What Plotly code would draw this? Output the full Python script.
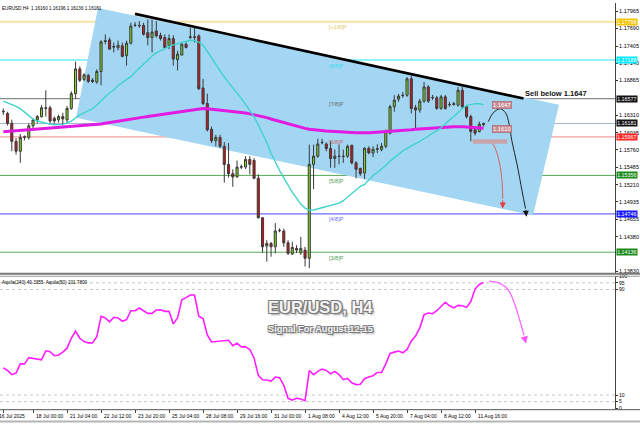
import plotly.graph_objects as go

# ---------------- data ----------------
bar_index = list(range(114))

opens = [1.16376, 1.16341, 1.16184, 1.15897, 1.15740, 1.15960, 1.15960, 1.16144, 1.16238, 1.16290,
         1.16431, 1.16431, 1.16263, 1.16238, 1.16290, 1.16238, 1.16420, 1.16655, 1.17048, 1.16881,
         1.16944, 1.16870, 1.16839, 1.17007, 1.17494, 1.17509, 1.17404, 1.17384, 1.17415, 1.17258,
         1.17456, 1.17739, 1.17739, 1.17739, 1.17624, 1.17546, 1.17651, 1.17582, 1.17546, 1.17415,
         1.17530, 1.17195, 1.17268, 1.17440, 1.17557, 1.17557, 1.17572, 1.16745, 1.16498, 1.16090,
         1.15908, 1.15960, 1.15819, 1.15531, 1.15384, 1.15332, 1.15494, 1.15489, 1.15610, 1.15594,
         1.15311, 1.14683, 1.14233, 1.14275, 1.14222, 1.14484, 1.14473, 1.14285, 1.14107, 1.14197,
         1.14128, 1.14170, 1.14040, 1.15531, 1.15662, 1.15881, 1.15855, 1.15782, 1.15625, 1.15662,
         1.15662, 1.15662, 1.15834, 1.15556, 1.15468, 1.15395, 1.15787, 1.15713, 1.15771, 1.15767,
         1.15819, 1.16027, 1.16447, 1.16567, 1.16624, 1.16630, 1.16891, 1.16431, 1.16395, 1.16536,
         1.16761, 1.16588, 1.16588, 1.16420, 1.16604, 1.16478, 1.16483, 1.16473, 1.16709, 1.16447,
         1.16290, 1.16081, 1.16054, 1.16160]
highs = [1.16420, 1.16368, 1.16242, 1.15949, 1.16012, 1.15991, 1.16184, 1.16263, 1.16316, 1.16473,
         1.16709, 1.16462, 1.16290, 1.16321, 1.16352, 1.16458, 1.16693, 1.17164, 1.17090, 1.16980,
         1.16969, 1.16902, 1.17043, 1.17503, 1.17597, 1.17546, 1.17467, 1.17498, 1.17467, 1.17498,
         1.17781, 1.17792, 1.17808, 1.17781, 1.17833, 1.17833, 1.17808, 1.17624, 1.17597, 1.17597,
         1.17582, 1.17337, 1.17456, 1.17467, 1.17703, 1.17703, 1.17597, 1.16891, 1.16655, 1.16133,
         1.16002, 1.16002, 1.15886, 1.15870, 1.15453, 1.15594, 1.15531, 1.15662, 1.15662, 1.15630,
         1.15374, 1.14693, 1.14327, 1.14300, 1.14599, 1.14515, 1.14511, 1.14327, 1.14300, 1.14249,
         1.14379, 1.14222, 1.15845, 1.15845, 1.15939, 1.15939, 1.15881, 1.15897, 1.15767, 1.15845,
         1.15767, 1.15845, 1.15845, 1.15583, 1.15478, 1.15803, 1.15819, 1.15819, 1.15850, 1.15870,
         1.16085, 1.16478, 1.16630, 1.16651, 1.16682, 1.16918, 1.16944, 1.16478, 1.16572, 1.16839,
         1.16792, 1.16635, 1.16619, 1.16635, 1.16635, 1.16525, 1.16525, 1.16761, 1.16761, 1.16478,
         1.16321, 1.16117, 1.16211, 1.16196]
lows = [1.16316, 1.16148, 1.15740, 1.15688, 1.15556, 1.15913, 1.15924, 1.16106, 1.16184, 1.16274,
        1.16290, 1.16184, 1.16180, 1.16195, 1.16148, 1.16195, 1.16399, 1.16577, 1.16839, 1.16855,
        1.16823, 1.16823, 1.16812, 1.16787, 1.17440, 1.17357, 1.17310, 1.17341, 1.17232, 1.17101,
        1.17436, 1.17714, 1.17703, 1.17577, 1.17425, 1.17310, 1.17546, 1.17498, 1.17362, 1.17362,
        1.17101, 1.17023, 1.17263, 1.17373, 1.17519, 1.17467, 1.16713, 1.16473, 1.16054, 1.15870,
        1.15819, 1.15792, 1.15242, 1.15321, 1.15175, 1.15321, 1.15457, 1.15457, 1.15374, 1.15296,
        1.14672, 1.14128, 1.13986, 1.14065, 1.14118, 1.14453, 1.14222, 1.14092, 1.14092, 1.14123,
        1.14092, 1.13908, 1.13883, 1.15139, 1.15635, 1.15850, 1.15740, 1.15478, 1.15478, 1.15531,
        1.15556, 1.15635, 1.15531, 1.15311, 1.15348, 1.15300, 1.15693, 1.15646, 1.15709, 1.15740,
        1.15787, 1.16007, 1.16368, 1.16525, 1.16588, 1.16604, 1.16341, 1.16106, 1.16352, 1.16509,
        1.16509, 1.16556, 1.16399, 1.16399, 1.16399, 1.16447, 1.16462, 1.16447, 1.16420, 1.16258,
        1.15897, 1.15991, 1.16038, 1.16136]
closes = [1.16368, 1.16184, 1.15897, 1.15740, 1.15960, 1.15968, 1.16144, 1.16238, 1.16290, 1.16431,
          1.16423, 1.16222, 1.16222, 1.16290, 1.16253, 1.16420, 1.16655, 1.17048, 1.16866, 1.16954,
          1.16850, 1.16847, 1.17007, 1.17478, 1.17486, 1.17362, 1.17396, 1.17425, 1.17247, 1.17456,
          1.17729, 1.17742, 1.17734, 1.17597, 1.17546, 1.17635, 1.17572, 1.17530, 1.17389, 1.17530,
          1.17205, 1.17283, 1.17440, 1.17389, 1.17552, 1.17550, 1.16734, 1.16498, 1.16081, 1.15908,
          1.15960, 1.15819, 1.15531, 1.15384, 1.15332, 1.15489, 1.15489, 1.15610, 1.15531, 1.15311,
          1.14683, 1.14222, 1.14275, 1.14222, 1.14473, 1.14479, 1.14285, 1.14118, 1.14212, 1.14170,
          1.14197, 1.14040, 1.15531, 1.15662, 1.15855, 1.15877, 1.15782, 1.15625, 1.15662, 1.15657,
          1.15657, 1.15819, 1.15556, 1.15453, 1.15384, 1.15787, 1.15713, 1.15771, 1.15779, 1.15819,
          1.16054, 1.16447, 1.16552, 1.16615, 1.16630, 1.16891, 1.16420, 1.16395, 1.16536, 1.16761,
          1.16536, 1.16593, 1.16420, 1.16604, 1.16420, 1.16483, 1.16494, 1.16709, 1.16447, 1.16290,
          1.16054, 1.16027, 1.16169, 1.16181]

ma_fast = [1.16536, 1.16512, 1.16490, 1.16454, 1.16417, 1.16363, 1.16305, 1.16250, 1.16220, 1.16202,
           1.16183, 1.16170, 1.16161, 1.16161, 1.16167, 1.16192, 1.16220, 1.16269, 1.16318, 1.16348,
           1.16381, 1.16415, 1.16473, 1.16536, 1.16610, 1.16669, 1.16712, 1.16784, 1.16831, 1.16881,
           1.16925, 1.16996, 1.17064, 1.17129, 1.17197, 1.17254, 1.17302, 1.17341, 1.17374, 1.17407,
           1.17429, 1.17447, 1.17464, 1.17491, 1.17502, 1.17498, 1.17475, 1.17426, 1.17321, 1.17216,
           1.17128, 1.17020, 1.16919, 1.16831, 1.16750, 1.16666, 1.16580, 1.16486, 1.16392, 1.16290,
           1.16156, 1.16015, 1.15881, 1.15709, 1.15567, 1.15434, 1.15316, 1.15198, 1.15088, 1.14994,
           1.14900, 1.14837, 1.14801, 1.14806, 1.14826, 1.14845, 1.14861, 1.14877, 1.14897, 1.14916,
           1.14955, 1.15010, 1.15065, 1.15120, 1.15183, 1.15214, 1.15285, 1.15355, 1.15402, 1.15450,
           1.15512, 1.15583, 1.15638, 1.15696, 1.15745, 1.15787, 1.15830, 1.15862, 1.15895, 1.15936,
           1.15976, 1.16023, 1.16067, 1.16114, 1.16180, 1.16238, 1.16293, 1.16355, 1.16420, 1.16465,
           1.16484, 1.16497, 1.16494, 1.16481]

ma_slow = [1.16049, 1.16054, 1.16059, 1.16062, 1.16065, 1.16073, 1.16081, 1.16089, 1.16093, 1.16098,
           1.16103, 1.16107, 1.16111, 1.16115, 1.16122, 1.16128, 1.16136, 1.16142, 1.16148, 1.16153,
           1.16156, 1.16161, 1.16166, 1.16172, 1.16186, 1.16198, 1.16208, 1.16219, 1.16230, 1.16242,
           1.16252, 1.16261, 1.16272, 1.16282, 1.16293, 1.16302, 1.16312, 1.16321, 1.16332, 1.16341,
           1.16352, 1.16362, 1.16371, 1.16382, 1.16390, 1.16399, 1.16409, 1.16418, 1.16414, 1.16407,
           1.16401, 1.16395, 1.16387, 1.16379, 1.16373, 1.16365, 1.16357, 1.16346, 1.16334, 1.16321,
           1.16310, 1.16294, 1.16274, 1.16253, 1.16233, 1.16213, 1.16194, 1.16173, 1.16153, 1.16133,
           1.16114, 1.16103, 1.16090, 1.16081, 1.16074, 1.16068, 1.16062, 1.16057, 1.16052, 1.16048,
           1.16045, 1.16040, 1.16037, 1.16035, 1.16034, 1.16030, 1.16032, 1.16037, 1.16041, 1.16045,
           1.16051, 1.16059, 1.16065, 1.16070, 1.16073, 1.16078, 1.16082, 1.16089, 1.16095, 1.16101,
           1.16107, 1.16111, 1.16115, 1.16118, 1.16123, 1.16126, 1.16128, 1.16131, 1.16131, 1.16125,
           1.16118, 1.16114, 1.16109, 1.16104]

oscillator = [30.6, 28.6, 25.4, 26.6, 33.6, 33.6, 38.3, 37.6, 37.1, 36.6,
              43.5, 42.8, 39.8, 40.3, 42.5, 45.5, 53.0, 58.5, 53.0, 50.5,
              49.5, 49.5, 54.2, 69.7, 68.4, 65.4, 68.9, 68.4, 65.9, 67.2,
              73.9, 73.9, 75.9, 73.9, 71.9, 71.9, 74.4, 74.6, 73.4, 73.4,
              63.9, 68.4, 82.1, 83.8, 85.8, 85.8, 69.7, 67.9, 55.5, 50.2,
              50.5, 51.2, 51.5, 51.5, 47.3, 49.3, 46.5, 46.5, 44.5, 38.1,
              24.9, 21.6, 21.4, 20.6, 23.6, 23.1, 17.4, 7.5, 6.2, 7.5,
              7.0, 5.7, 28.6, 25.4, 27.9,
              29.6, 28.6, 26.1, 27.9, 25.4, 21.6, 22.6, 19.2, 17.9, 18.2,
              22.4, 23.6, 24.6, 27.1, 27.1, 33.6, 41.5, 42.5, 43.3, 42.0,
              44.5, 51.0, 54.7, 60.9, 70.9, 72.1, 71.6, 73.9, 77.4, 80.3,
              77.6, 76.1, 77.9, 77.6, 76.4, 80.8, 90.3, 93.8, 95.3]

price_tick_vals = [1.17965, 1.17690, 1.17405, 1.17140, 1.16865, 1.16310, 1.16035,
                   1.15760, 1.15485, 1.15210, 1.14935, 1.14655, 1.14380, 1.13830]
osc_tick_vals = [0, 5, 10, 90, 95, 100]
osc_levels = [5, 10, 90, 95]

murray_levels = [1.17798, 1.17188, 1.16577, 1.15967, 1.15356, 1.14746, 1.14136]
murray_names = ["[+1/8]P", "[8/8]P", "[7/8]P", "[6/8]P", "[5/8]P", "[4/8]P", "[3/8]P"]
murray_line_colors = ["#f6e3a2", "#8ef2f7", "#8a8a8a", "#f2a0a0", "#55aa55", "#6b6bff", "#5aae5a"]
murray_text_colors = ["#e8c860", "#3fdcef", "#6a6a6a", "#c46a6a", "#4f9f4f", "#6b6bff", "#4f9f4f"]
murray_widths = [2, 2, 1.2, 1.2, 1, 1.2, 1]
murray_box_colors = ["#f2c400", "#00eaff", "#111111", "#ff2222", "#1a8a1a", "#1717ff", "#1a8a1a"]

bid_price = 1.16181
target_prices = [1.1647, 1.1610]

date_tick_bars = [0, 7, 15, 23, 31, 39, 47, 55, 63, 71, 79, 87, 95, 103, 111]
date_tick_labels = ["16 Jul 2025", "18 Jul 00:00", "21 Jul 04:00", "22 Jul 12:00", "23 Jul 20:00",
                    "25 Jul 04:00", "28 Jul 08:00", "29 Jul 16:00", "31 Jul 00:00", "1 Aug 08:00",
                    "4 Aug 12:00", "5 Aug 20:00", "7 Aug 04:00", "8 Aug 12:00", "11 Aug 16:00"]

# drawing objects (bar index, price)
channel_corners = [(22.28, 1.18017), (130.75, 1.16478), (124.64, 1.14720), (17.11, 1.16274)]
trend_line = [(31.0, 1.17922), (122.4, 1.16577)]
black_path_x = [114.12, 115.22, 116.87, 118.16, 118.99, 119.69, 120.87, 122.05, 122.87]
black_path_y = [1.16211, 1.16345, 1.16415, 1.16352, 1.16180, 1.15897, 1.15536, 1.15112, 1.14829]
black_tip = (123.1, 1.14700)
red_path_x = [114.12, 115.29, 116.47, 117.27, 117.51]
red_path_y = [1.15913, 1.15845, 1.15635, 1.15321, 1.14986]
red_tip = (117.51, 1.14830)
zone_box = (110.45, 118.6, 1.15861, 1.15929)
osc_path_x = [114.29, 116.87, 118.82, 120.4, 121.58, 122.52]
osc_path_y = [96.3, 94.6, 89.6, 78.4, 65.9, 55.2]
osc_tip = (123.0, 49.0)

# ---------------- figure ----------------
W, H = 640, 427
def fx(px):
    return px / W
def fy(py):
    return 1 - py / H

X_RANGE = [-0.776, 143.93]
PLOT_RIGHT = 615 / W
FONT = "Liberation Sans, Arial, sans-serif"
TITLE_FONT = "Liberation Sans, Arial, sans-serif"

fig = go.Figure()

fig.add_trace(go.Scatter(x=bar_index, y=ma_slow, mode="lines",
                         line=dict(color="#e21be2", width=3), hoverinfo="skip", showlegend=False))
fig.add_trace(go.Scatter(x=bar_index, y=ma_fast, mode="lines",
                         line=dict(color="#3fd3cc", width=1.4), hoverinfo="skip", showlegend=False))
fig.add_trace(go.Candlestick(
    x=bar_index, open=opens, high=highs, low=lows, close=closes,
    increasing=dict(line=dict(color="#3a3a3a", width=1), fillcolor="#7fd421"),
    decreasing=dict(line=dict(color="#3a3a3a", width=1), fillcolor="#cf1515"),
    whiskerwidth=0, hoverinfo="skip", showlegend=False))

fig.add_trace(go.Scatter(x=black_path_x, y=black_path_y, mode="lines", line_shape="spline",
                         line=dict(color="#222222", width=1), hoverinfo="skip", showlegend=False))
fig.add_trace(go.Scatter(x=red_path_x, y=red_path_y, mode="lines", line_shape="spline",
                         line=dict(color="#e85a5a", width=1), hoverinfo="skip", showlegend=False))

fig.add_trace(go.Scatter(x=bar_index, y=oscillator, mode="lines", xaxis="x2", yaxis="y2",
                         line=dict(color="#ff1eff", width=1.6), hoverinfo="skip", showlegend=False))
fig.add_trace(go.Scatter(x=osc_path_x, y=osc_path_y, mode="lines", line_shape="spline",
                         xaxis="x2", yaxis="y2",
                         line=dict(color="#ff6cff", width=1.3), hoverinfo="skip", showlegend=False))

shapes = []
path = "M " + " L ".join(f"{x},{y}" for x, y in channel_corners) + " Z"
shapes.append(dict(type="path", path=path, xref="x", yref="y", fillcolor="#a3d6f3",
                   line=dict(width=0), layer="below"))
for lvl, col, w in zip(murray_levels, murray_line_colors, murray_widths):
    shapes.append(dict(type="line", xref="paper", yref="y", x0=0, x1=PLOT_RIGHT, y0=lvl, y1=lvl,
                       line=dict(color=col, width=w), layer="below"))
shapes.append(dict(type="line", xref="paper", yref="y", x0=0, x1=PLOT_RIGHT, y0=bid_price, y1=bid_price,
                   line=dict(color="#a9b6c9", width=1), layer="below"))
shapes.append(dict(type="line", xref="x", yref="y", x0=trend_line[0][0], y0=trend_line[0][1],
                   x1=trend_line[1][0], y1=trend_line[1][1], line=dict(color="#000000", width=2.6)))
shapes.append(dict(type="rect", xref="x", yref="y", x0=zone_box[0], x1=zone_box[1],
                   y0=zone_box[2], y1=zone_box[3], fillcolor="#c9a3ab", line=dict(width=0)))
for lv in osc_levels:
    shapes.append(dict(type="line", xref="paper", yref="y2", x0=0, x1=PLOT_RIGHT, y0=lv, y1=lv,
                       line=dict(color="#b8b8b8", width=0.8, dash="dot"), layer="below"))
shapes.append(dict(type="line", xref="paper", yref="paper", x0=0, x1=1, y0=fy(274), y1=fy(274),
                   line=dict(color="#7a7a7a", width=2)))
shapes.append(dict(type="line", xref="paper", yref="paper", x0=0, x1=1, y0=fy(276.5), y1=fy(276.5),
                   line=dict(color="#9a9a9a", width=1)))
shapes.append(dict(type="line", xref="paper", yref="paper", x0=0, x1=1, y0=fy(411.5), y1=fy(411.5),
                   line=dict(color="#555555", width=1)))
shapes.append(dict(type="line", xref="paper", yref="paper", x0=0, x1=1, y0=fy(423.5), y1=fy(423.5),
                   line=dict(color="#b5b5b5", width=2)))

annotations = []
annotations.append(dict(xref="paper", yref="paper", x=fx(0), y=fy(1), xanchor="left", yanchor="top",
                        text="EURUSD,H4  1.16160 1.16196 1.16136 1.16181", showarrow=False,
                        font=dict(family=FONT, size=4.6, color="#000000")))
annotations.append(dict(xref="paper", yref="paper", x=fx(0), y=fy(278), xanchor="left", yanchor="top",
                        text="Aquila(240) 40.3355  Aquila(50) 101.7800", showarrow=False,
                        font=dict(family=FONT, size=4.6, color="#000000")))
for lvl, name, col in zip(murray_levels, murray_names, murray_text_colors):
    annotations.append(dict(xref="paper", yref="y", x=fx(327), y=lvl, xanchor="left", yanchor="top",
                            yshift=-0.5, text=name, showarrow=False,
                            font=dict(family=FONT, size=5.5, color=col)))
for lvl, bg in zip(murray_levels, murray_box_colors):
    annotations.append(dict(xref="paper", yref="y", x=fx(616), y=lvl, xanchor="left", yanchor="middle",
                            text=f"{lvl:.5f}", showarrow=False, bgcolor=bg, borderpad=0.2,
                            font=dict(family=FONT, size=5.3, color="#ffffff")))
annotations.append(dict(xref="paper", yref="y", x=fx(616), y=bid_price, xanchor="left", yanchor="middle",
                        text=f"{bid_price:.5f}", showarrow=False, bgcolor="#111111", borderpad=0.2,
                        font=dict(family=FONT, size=5.3, color="#ffffff")))
for tp in target_prices:
    annotations.append(dict(xref="x", yref="y", x=117.4, y=tp, xanchor="center", yanchor="middle",
                            text=f"{tp:.4f}", showarrow=False, bgcolor="#c98d95",
                            bordercolor="#a8606a", borderwidth=0.6, borderpad=0.3,
                            font=dict(family=FONT, size=5.8, color="#ffffff")))
annotations.append(dict(xref="paper", yref="paper", x=fx(523), y=fy(91.5), xanchor="left", yanchor="middle",
                        text="<b>Sell below 1.1647</b>", showarrow=False,
                        font=dict(family=FONT, size=7.5, color="#111111")))
annotations.append(dict(xref="x", yref="y", axref="x", ayref="y", x=black_tip[0], y=black_tip[1],
                        ax=black_path_x[-1], ay=black_path_y[-1], text="", showarrow=True,
                        arrowhead=2, arrowsize=1.2, arrowwidth=1, arrowcolor="#111111"))
annotations.append(dict(xref="x", yref="y", axref="x", ayref="y", x=red_tip[0], y=red_tip[1],
                        ax=red_path_x[-1], ay=red_path_y[-1], text="", showarrow=True,
                        arrowhead=2, arrowsize=1.2, arrowwidth=1, arrowcolor="#e83a3a"))
annotations.append(dict(xref="x2", yref="y2", axref="x2", ayref="y2", x=osc_tip[0], y=osc_tip[1],
                        ax=osc_path_x[-1], ay=osc_path_y[-1], text="", showarrow=True,
                        arrowhead=2, arrowsize=1.2, arrowwidth=1.2, arrowcolor="#ff55ff"))
shadow = "-1px -1px 0 #7a7a7a, 1px -1px 0 #7a7a7a, -1px 1px 0 #7a7a7a, 1px 1px 0 #7a7a7a, 2px 2px 2px #9a9a9a"
annotations.append(dict(xref="paper", yref="paper", x=fx(320), y=fy(308), xanchor="center", yanchor="middle",
                        text="<b>EUR/USD, H4</b>", showarrow=False,
                        font=dict(family=TITLE_FONT, size=16.5, color="#f4f4f4", shadow=shadow)))
annotations.append(dict(xref="paper", yref="paper", x=fx(320), y=fy(330), xanchor="center", yanchor="middle",
                        text="<b>Signal For August 12-15</b>", showarrow=False,
                        font=dict(family=TITLE_FONT, size=9.2, color="#f4f4f4", shadow=shadow)))
for b, lab in zip(date_tick_bars, date_tick_labels):
    annotations.append(dict(xref="x2", yref="paper", x=b, y=fy(413), xanchor="left", yanchor="top",
                            xshift=(-6 if b == 0 else 0.5), text=lab, showarrow=False,
                            font=dict(family=FONT, size=5, color="#000000")))

fig.update_layout(
    width=W, height=H, margin=dict(l=0, r=0, t=0, b=0),
    paper_bgcolor="#ffffff", plot_bgcolor="#ffffff", showlegend=False,
    shapes=shapes, annotations=annotations,
    xaxis=dict(domain=[0, PLOT_RIGHT], range=X_RANGE, anchor="y", showticklabels=False,
               showgrid=False, zeroline=False, rangeslider=dict(visible=False), ticks=""),
    yaxis=dict(domain=[fy(273), 1], range=[1.13809, 1.18095], side="right", anchor="x",
               tickvals=price_tick_vals, ticktext=[f"{v:.5f}" for v in price_tick_vals],
               tickfont=dict(family=FONT, size=5.5, color="#000000"), ticks="outside", ticklen=2,
               tickcolor="#333333", showline=True, linecolor="#444444", linewidth=1,
               showgrid=False, zeroline=False),
    xaxis2=dict(domain=[0, PLOT_RIGHT], range=X_RANGE, anchor="y2", showticklabels=False,
                tickvals=date_tick_bars, ticks="outside", ticklen=3, tickcolor="#444444",
                showline=False, showgrid=False, zeroline=False),
    yaxis2=dict(domain=[fy(411), fy(276.5)], range=[-0.75, 100], side="right", anchor="x2",
                tickvals=osc_tick_vals, ticktext=[str(v) for v in osc_tick_vals],
                tickfont=dict(family=FONT, size=5, color="#000000"), ticks="outside", ticklen=2,
                tickcolor="#333333", showline=True, linecolor="#444444", linewidth=1,
                showgrid=False, zeroline=False),
)

fig.write_html("out.html", config={"displayModeBar": False, "staticPlot": True},
               post_script="document.body.style.margin='0';document.body.style.padding='0';")
